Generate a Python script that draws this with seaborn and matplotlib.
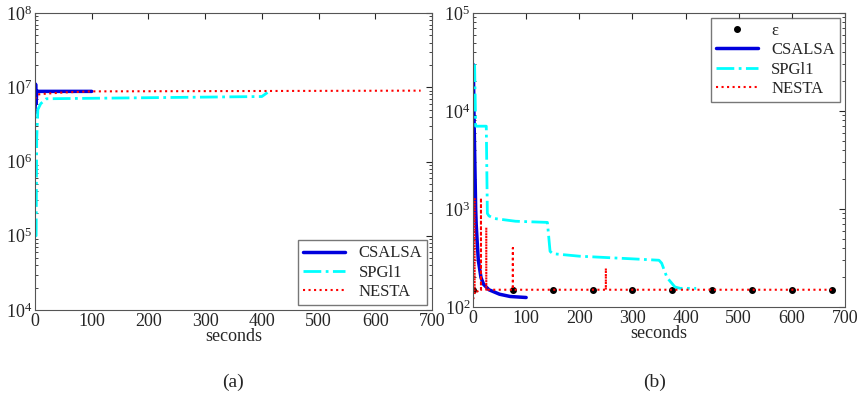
import matplotlib
matplotlib.use("Agg")
import matplotlib.pyplot as plt
import seaborn as sns

sns.set_style("white")
plt.rcParams['font.family'] = ['Liberation Serif', 'DejaVu Serif']

# panel (a)
a_cs_t = [0, 1, 2, 3, 5, 100]
a_cs_v = [4.5e6, 1.1e7, 6e6, 9e6, 8.8e6, 8.8e6]
a_spg_t = [1, 2, 3, 5, 10, 20, 400, 410]
a_spg_v = [1e5, 1e5, 2e6, 5e6, 6e6, 7e6, 7.5e6, 8.5e6]
a_nes_t = [0, 5, 20, 50, 100, 680]
a_nes_v = [7e6, 8e6, 8.2e6, 8.5e6, 8.8e6, 9e6]

# panel (b)
eps_t = [0, 75, 150, 225, 300, 375, 450, 525, 600, 675]
eps_v = [150] * 10
b_cs_t = [0, 1, 2, 3, 4, 5, 6, 8, 10, 15, 20, 30, 50, 70, 100]
b_cs_v = [3e4, 2e4, 8e3, 4e3, 2e3, 1e3, 700, 450, 300, 200, 170, 150, 135, 128, 125]
b_spg_t = [3, 5, 7, 25, 27, 30, 40, 80, 140, 145, 150, 200, 300, 350, 355, 365, 380, 390, 420]
b_spg_v = [3e4, 7e3, 7e3, 7e3, 900, 850, 800, 750, 730, 370, 350, 330, 310, 300, 280, 200, 160, 155, 155]
b_nes_t = [0, 3, 3, 3, 15, 15, 15, 25, 25, 25, 75, 75, 75, 250, 250, 250, 675]
b_nes_v = [120, 130, 1300, 140, 150, 1300, 150, 150, 650, 150, 150, 400, 150, 150, 250, 150, 150]

fig = plt.figure(figsize=(8.58, 4.09), dpi=100)
ax1 = fig.add_axes([35/858, 1-310/409, 397/858, 297/409])
ax2 = fig.add_axes([473/858, 1-307/409, 372/858, 294/409])

for ax in (ax1, ax2):
    ax.set_yscale('log')
    ax.set_xlim(0, 700)
    ax.set_xticks(range(0, 701, 100))
    ax.set_xlabel('seconds', fontsize=13, labelpad=-1)
    ax.tick_params(labelsize=13, direction='in', length=4, which='major', top=True, right=True, pad=2)
    ax.tick_params(direction='in', length=2, which='minor', left=True, right=True)
    for s in ax.spines.values():
        s.set_color('#555555')
        s.set_linewidth(0.8)

sns.lineplot(x=a_cs_t, y=a_cs_v, ax=ax1, color='#0000dd', lw=2.5, label='CSALSA', sort=False, estimator=None)
sns.lineplot(x=a_spg_t, y=a_spg_v, ax=ax1, color='cyan', lw=2, ls='-.', label='SPGl1', sort=False, estimator=None)
sns.lineplot(x=a_nes_t, y=a_nes_v, ax=ax1, color='red', lw=1.5, ls=':', label='NESTA', sort=False, estimator=None)
ax1.set_ylim(1e4, 1e8)
ax1.legend(loc='lower right', fontsize=12, fancybox=False, edgecolor='#555555', handlelength=2.5,
           borderaxespad=0.3, labelspacing=0.2, borderpad=0.3)

ax2.plot(eps_t, eps_v, 'o', color='black', ms=4, label='ε')
sns.lineplot(x=b_cs_t, y=b_cs_v, ax=ax2, color='#0000dd', lw=2.5, label='CSALSA', sort=False, estimator=None)
sns.lineplot(x=b_spg_t, y=b_spg_v, ax=ax2, color='cyan', lw=2, ls='-.', label='SPGl1', sort=False, estimator=None)
sns.lineplot(x=b_nes_t, y=b_nes_v, ax=ax2, color='red', lw=1.5, ls=':', label='NESTA', sort=False, estimator=None)
ax2.set_ylim(1e2, 1e5)
ax2.legend(loc='upper right', fontsize=12, fancybox=False, edgecolor='#555555', handlelength=2.5,
           borderaxespad=0.3, labelspacing=0.2, borderpad=0.3)

fig.text(233/858, 1-382/409, '(a)', ha='center', va='center', fontsize=14)
fig.text(655/858, 1-382/409, '(b)', ha='center', va='center', fontsize=14)

fig.savefig('out.png', dpi=100)
